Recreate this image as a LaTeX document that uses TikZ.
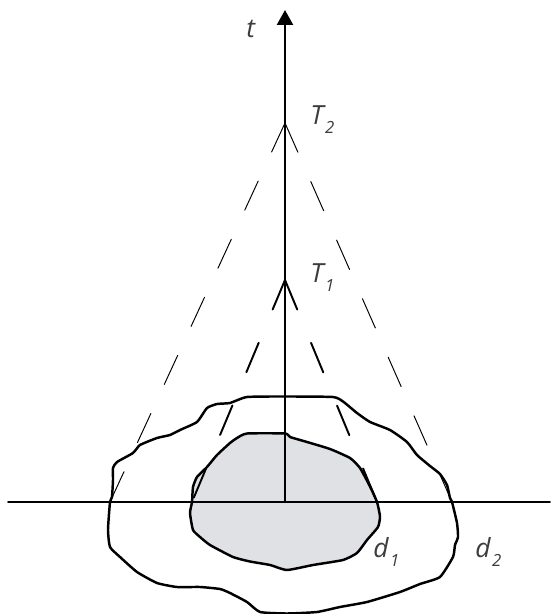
\documentclass[tikz,border=0pt]{standalone}
\usepackage{fontspec}
\setmainfont{Open Sans}
\usetikzlibrary{arrows.meta}
\definecolor{regiongray}{RGB}{224,225,228}
\definecolor{labelgray}{RGB}{60,60,60}
\newcommand{\lowsub}[1]{\kern0.06em\raisebox{-5pt}{\fontsize{9.5}{9.5}\selectfont\itshape #1}}

\begin{document}
\begin{tikzpicture}[line cap=round,line join=round,
  rim/.style={line width=1.4pt},
  farcone/.style={line width=0.55pt,dash pattern=on 0.64cm off 0.64cm},
  nearcone/.style={line width=1.1pt,dash pattern=on 0.64cm off 0.72cm},
  lbl/.style={anchor=base west,inner sep=0pt,text=labelgray,font=\fontsize{15}{17}\selectfont\itshape}]
  \useasboundingbox (-5.70,-2.24) rectangle (5.38,10.04);
  \coordinate (O) at (0,0);
  \coordinate (Top) at (0,9.84);
  \coordinate (Xl) at (-5.54,0);
  \coordinate (Xr) at (5.30,0);
  \coordinate (T1) at (0,4.44);
  \coordinate (T2) at (0,7.58);
  \coordinate (N1) at (-1.86,0);
  \coordinate (N2) at (1.84,0);
  \coordinate (F1) at (-3.50,0);
  \coordinate (F2) at (3.34,0);
  % region d1
  \filldraw[rim,fill=regiongray] plot[smooth cycle,tension=0.3] coordinates {
    (0,1.37) (0.10,1.30) (0.44,1.20) (0.90,1.06) (1.30,0.88) (1.50,0.68)
    (1.70,0.31) (1.84,0) (1.90,-0.29) (1.86,-0.50) (1.64,-0.76) (1.44,-1.02)
    (1.16,-1.16) (0.56,-1.26) (0.04,-1.36) (-0.30,-1.26) (-0.70,-1.19)
    (-1.04,-1.10) (-1.50,-0.86) (-1.70,-0.70) (-1.84,-0.56) (-1.90,-0.22)
    (-1.86,0) (-1.84,0.30) (-1.76,0.50) (-1.56,0.70) (-1.36,0.94) (-1.10,1.18)
    (-0.96,1.28) (-0.76,1.37)};
  % region d2
  \draw[rim] plot[smooth cycle,tension=0.3] coordinates {
    (0,2.11) (0.96,2.10) (1.16,2.01) (1.44,1.78) (1.70,1.60) (2.10,1.44)
    (2.44,1.20) (2.64,0.94) (2.90,0.72) (3.10,0.56) (3.24,0.34) (3.30,0.08)
    (3.34,0) (3.44,-0.42) (3.46,-0.70) (3.40,-0.86) (3.36,-1.10) (3.10,-1.50)
    (2.70,-1.64) (2.30,-1.80) (1.64,-2.00) (1.10,-2.10) (0.64,-2.20)
    (0.04,-2.23) (-0.50,-2.20) (-0.76,-2.00) (-1.10,-1.82) (-1.30,-1.74)
    (-1.70,-1.70) (-2.16,-1.70) (-2.56,-1.62) (-2.96,-1.40) (-3.30,-1.10)
    (-3.50,-0.90) (-3.54,-0.56) (-3.50,0) (-3.46,0.10) (-3.44,0.44)
    (-3.44,0.68) (-3.36,0.80) (-3.04,0.98) (-2.90,1.14) (-2.56,1.28)
    (-2.30,1.34) (-2.10,1.44) (-1.76,1.60) (-1.56,1.88) (-1.36,1.96)
    (-1.10,1.98) (-0.76,2.10)};
  % cones
  \draw[nearcone] (T1) -- (N1);
  \draw[nearcone] (T1) -- (N2);
  \draw[farcone] (T2) -- (F1);
  \draw[farcone] (T2) -- (F2);
  % axes
  \draw[line width=1.1pt] (Xl) -- (Xr);
  \draw[line width=1.3pt,-{Triangle[width=0.32cm,length=0.30cm]}] (O) -- (Top);
  \node[lbl] (tl) at (-0.78,9.28) {t};
  \node[lbl] (T2l) at (0.50,7.54) {T\lowsub{2}};
  \node[lbl] (T1l) at (0.50,4.38) {T\lowsub{1}};
  \node[lbl] (d1l) at (1.76,-1.12) {d\lowsub{1}};
  \node[lbl] (d2l) at (3.80,-1.12) {d\lowsub{2}};
\end{tikzpicture}
\end{document}
